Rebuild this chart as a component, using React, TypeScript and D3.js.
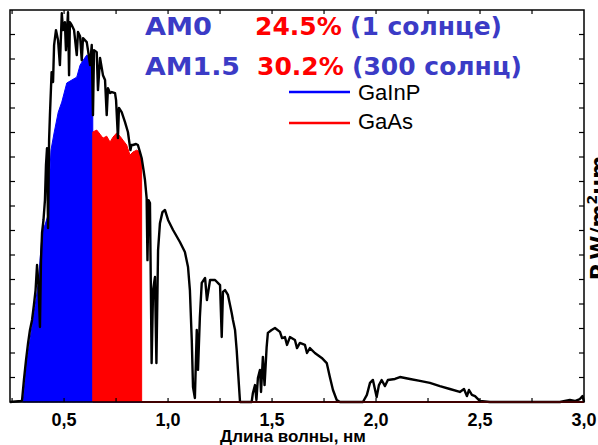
import React from "react";
import * as d3 from "d3";

// Solar spectrum (black), wavelength in µm and spectral power in W/m²µm
const spectrumWl = [
  0.24, 0.293, 0.298, 0.307, 0.317, 0.327, 0.336, 0.346, 0.355, 0.363, 0.37, 0.377, 0.384, 0.389, 0.394,
  0.401, 0.408, 0.413, 0.418, 0.423, 0.428, 0.432, 0.44, 0.447, 0.452, 0.461, 0.471, 0.48, 0.489, 0.495,
  0.504, 0.509, 0.519, 0.524, 0.528, 0.537, 0.548, 0.561, 0.567, 0.577, 0.585, 0.591, 0.609, 0.615, 0.625,
  0.633, 0.639, 0.644, 0.657, 0.663, 0.673, 0.687, 0.697, 0.705, 0.711, 0.721, 0.73, 0.745, 0.75, 0.759,
  0.764, 0.777, 0.793, 0.807, 0.819, 0.824, 0.831, 0.846, 0.855, 0.865, 0.873, 0.882, 0.889, 0.897, 0.901,
  0.906, 0.913, 0.921, 0.928, 0.937, 0.944, 0.952, 0.961, 0.973, 0.985, 1.0, 1.024, 1.057, 1.081, 1.096,
  1.105, 1.114, 1.12, 1.129, 1.138, 1.144, 1.153, 1.162, 1.178, 1.187, 1.202, 1.226, 1.25, 1.258, 1.264,
  1.274, 1.288, 1.306, 1.312, 1.322, 1.33, 1.336, 1.346, 1.402, 1.408, 1.418, 1.425, 1.432, 1.442, 1.447,
  1.456, 1.464, 1.474, 1.48, 1.498, 1.514, 1.538, 1.548, 1.562, 1.572, 1.586, 1.61, 1.62, 1.634, 1.658,
  1.668, 1.682, 1.706, 1.739, 1.763, 1.778, 1.793, 1.811, 1.827, 1.937, 1.956, 1.971, 1.985, 2.003, 2.014,
  2.027, 2.043, 2.057, 2.091, 2.115, 2.163, 2.211, 2.259, 2.307, 2.355, 2.403, 2.423, 2.437, 2.447, 2.461,
  2.476, 2.5, 2.548, 2.884, 2.932, 2.956, 2.98, 2.993, 3.0,
];
const spectrumP = [
  0, 4, 8, 90, 171, 241, 294, 335, 396, 457, 559, 477, 306, 579, 690,
  743, 824, 967, 1036, 710, 1069, 1171, 1346, 1306, 1457, 1518, 1477, 1375, 1587, 1518,
  1550, 1436, 1591, 1334, 1550, 1538, 1518, 1416, 1510, 1493, 1395, 1485, 1469, 1436, 1375,
  1457, 1171, 1436, 1428, 1273, 1404, 1334, 1314, 1171, 1281, 1261, 1265, 1261, 1232, 1077,
  1200, 1183, 1142, 1102, 1028, 1049, 1049, 1053, 1049, 1020, 996, 947, 906, 832, 579,
  824, 812, 159, 457, 510, 159, 620, 730, 775, 784, 743, 702, 653, 612, 551,
  457, 253, 61, 16, 294, 131, 347, 486, 506, 416, 498, 498, 477, 265, 449,
  457, 437, 363, 335, 294, 212, 131, 0, 0, 37, 69, 8, 98, 131, 41,
  184, 69, 224, 282, 294, 302, 286, 261, 265, 233, 265, 253, 220, 241, 233,
  200, 220, 200, 180, 159, 102, 49, 8, 0, 0, 29, 78, 90, 20, 69,
  90, 65, 90, 94, 102, 94, 86, 78, 65, 53, 41, 53, 24, 49, 29,
  24, 4, 0, 0, 8, 4, 12, 24, 0,
];

// GaInP subcell share (blue)
const gainpWl = [
  0.3, 0.304, 0.32, 0.336, 0.36, 0.376, 0.392, 0.4, 0.408, 0.423, 0.43, 0.437, 0.452, 0.472, 0.489,
  0.513, 0.537, 0.561, 0.577, 0.592, 0.609, 0.625, 0.638, 0.638, 3.0,
];
const gainpP = [
  0, 8, 159, 253, 388, 486, 661, 710, 722, 763, 906, 1028, 1098, 1183, 1224,
  1302, 1314, 1326, 1375, 1395, 1416, 1404, 1387, 0, 0,
];

// GaAs subcell share (red)
const gaasWl = [
  0.638, 0.638, 0.657, 0.673, 0.687, 0.705, 0.721, 0.735, 0.753, 0.769, 0.783, 0.801, 0.817, 0.831, 0.849,
  0.865, 0.873, 0.873, 3.0,
];
const gaasP = [
  0, 1102, 1110, 1093, 1077, 1085, 1061, 1081, 1098, 1085, 1069, 1049, 1008, 1020, 1028,
  1020, 979, 0, 0,
];

const xTickValues = [0.5, 1.0, 1.5, 2.0, 2.5, 3.0];
const xTickLabels = ["0,5", "1,0", "1,5", "2,0", "2,5", "3,0"];
const xMinorTicks = [0.25, 0.5, 0.75, 1.0, 1.25, 1.5, 1.75, 2.0, 2.25, 2.5, 2.75];
const yTickValues = d3.range(100, 1600, 100);

const legendNames = ["GaInP", "GaAs"];
const legendColors = ["#0000ff", "#ff0000"];

const W = 598;
const H = 445;
const L = 10, R = 584, T = 10, B = 402;

export default function App() {
  const x = d3.scaleLinear().domain([0.24, 3.0]).range([L, R]);
  const y = d3.scaleLinear().domain([0, 1600]).range([B, T]);

  const toPts = (wl: number[], p: number[]) => wl.map((w, i) => [w, p[i]] as [number, number]);
  const spec = toPts(spectrumWl, spectrumP);
  const blue = toPts(gainpWl, gainpP);
  const red = toPts(gaasWl, gaasP);

  const area = d3
    .area<[number, number]>()
    .x((d) => x(d[0]))
    .y0(y(0))
    .y1((d) => y(d[1]));
  const line = d3
    .line<[number, number]>()
    .x((d) => x(d[0]))
    .y((d) => y(d[1]));

  const redBase = red.filter((d) => d[1] === 0 && d[0] >= 0.873);

  const blueText = "#3b3bc6";
  const titleFont = "'DejaVu Sans', sans-serif";

  return (
    <div style={{ position: "absolute", left: 0, top: 0 }}>
      <svg width={W} height={H} style={{ display: "block", background: "#fff" }}>
        <path d={area(blue) || ""} fill="#0000ff" stroke="#0000ff" strokeWidth={1} />
        <path d={area(red) || ""} fill="#ff0000" stroke="#ff0000" strokeWidth={1} />
        <path d={line(spec) || ""} fill="none" stroke="#000" strokeWidth={2.4} strokeLinejoin="round" />
        <path d={line(redBase) || ""} fill="none" stroke="#ff0000" strokeWidth={2} />

        {/* frame */}
        <rect x={L} y={T} width={R - L} height={B - T} fill="none" stroke="#000" strokeWidth={1.5} />
        {xMinorTicks.map((t) => (
          <g key={"xt" + t}>
            <line x1={x(t)} x2={x(t)} y1={B} y2={B - 4} stroke="#000" strokeWidth={1.2} />
            <line x1={x(t)} x2={x(t)} y1={T} y2={T + 4} stroke="#000" strokeWidth={1.2} />
          </g>
        ))}
        {yTickValues.map((t) => (
          <g key={"yt" + t}>
            <line x1={L} x2={L + 5} y1={y(t)} y2={y(t)} stroke="#000" strokeWidth={1.2} />
            <line x1={R} x2={R - 5} y1={y(t)} y2={y(t)} stroke="#000" strokeWidth={1.2} />
          </g>
        ))}
        {xTickValues.map((t, i) => (
          <text
            key={"xl" + t}
            x={x(t)}
            y={426}
            textAnchor="middle"
            fontFamily="'Liberation Sans', Arial, sans-serif"
            fontWeight="bold"
            fontSize={18}
            fill="#000"
          >
            {xTickLabels[i]}
          </text>
        ))}
        <text
          x={293}
          y={442}
          textAnchor="middle"
          fontFamily="'Liberation Sans', Arial, sans-serif"
          fontWeight="bold"
          fontSize={17}
          fill="#000"
        >
          Длина волны, нм
        </text>

        {/* right axis label */}
        <text
          transform={`translate(606, 218) rotate(-90)`}
          textAnchor="middle"
          fontFamily={titleFont}
          fontWeight="bold"
          fontSize={22}
          fill="#000"
        >
          P,W/m<tspan dy={-9} fontSize={14}>2</tspan>
          <tspan dy={9}>µm</tspan>
        </text>

        {/* annotations */}
        <g fontFamily={titleFont} fontWeight="bold" fontSize={25}>
          <text x={145} y={35} fill={blueText} textLength={67} lengthAdjust="spacingAndGlyphs">AM0</text>
          <text x={255} y={35} fill="#ff0000">24.5%</text>
          <text x={350} y={35} fill={blueText}>(1 солнце)</text>
          <text x={145} y={75} fill={blueText} textLength={95} lengthAdjust="spacingAndGlyphs">AM1.5</text>
          <text x={257} y={75} fill="#ff0000">30.2%</text>
          <text x={352} y={75} fill={blueText}>(300 солнц)</text>
        </g>

        {/* legend */}
        {legendNames.map((n, i) => (
          <g key={n}>
            <line x1={289} x2={350} y1={92 + i * 31} y2={92 + i * 31} stroke={legendColors[i]} strokeWidth={2.5} />
            <text
              x={358}
              y={100 + i * 29}
              fontFamily="'Liberation Sans', Arial, sans-serif"
              fontSize={22}
              fill="#000"
            >
              {n}
            </text>
          </g>
        ))}
      </svg>
    </div>
  );
}
